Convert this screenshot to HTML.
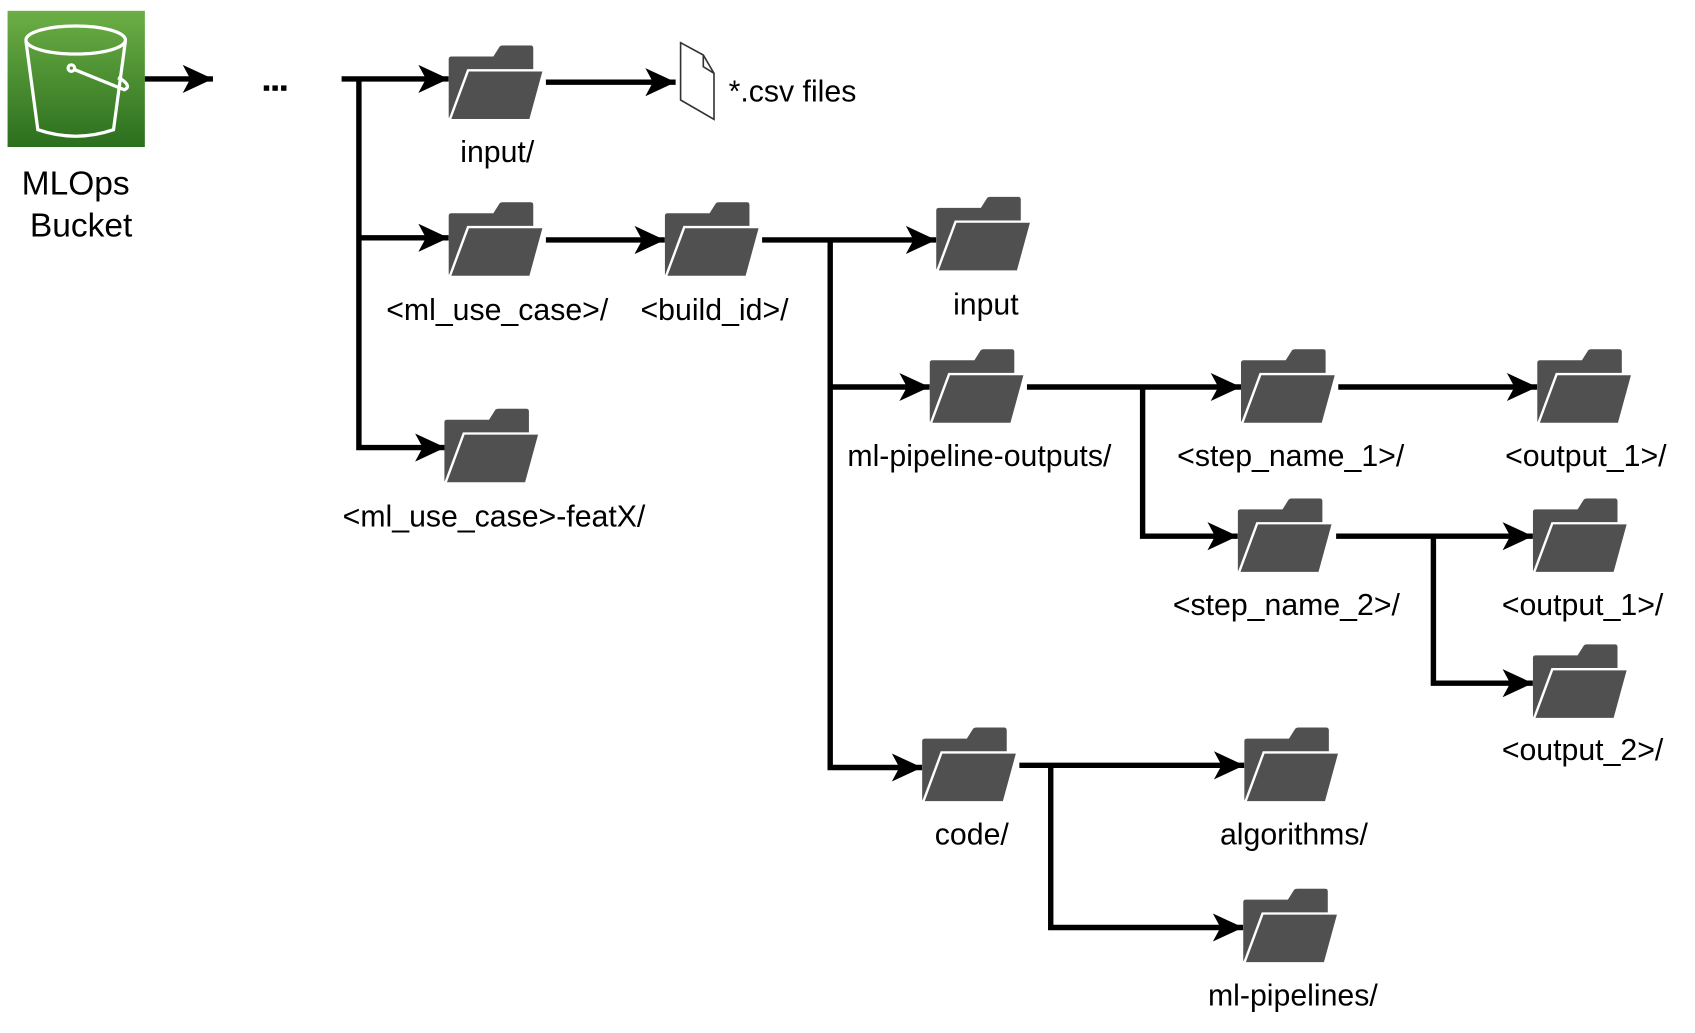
<!DOCTYPE html>
<html><head><meta charset="utf-8"><style>
html,body{margin:0;padding:0;background:#fff;}
svg{display:block;}
text{font-family:"Liberation Sans",Arial,sans-serif;fill:#000;}
</style></head><body>
<svg width="1695" height="1033" viewBox="0 0 1568 955.6" xmlns="http://www.w3.org/2000/svg">
<defs>
<linearGradient id="g" x1="0" y1="0" x2="0" y2="1"><stop offset="0" stop-color="#6cae45"/><stop offset="1" stop-color="#2b6f1e"/></linearGradient>
<marker id="a" markerUnits="userSpaceOnUse" markerWidth="40" markerHeight="40" refX="30" refY="15" orient="auto" viewBox="0 0 40 30">
<path d="M30,15 L2,2 L9,15 L2,28 Z" fill="#000"/></marker>
<symbol id="f" viewBox="0 0 100 82" preserveAspectRatio="none">
<path d="M3,12 L46,12 L52,2 Q53,0 56,0 L84,0 Q87,0 87,3 L87,30 L3,80 Q0,80 0,77 L0,15 Q0,12 3,12 Z" fill="#505050"/>
<path d="M20,27 L98,27 L84,81 L1,81 Z" fill="#505050" stroke="#fff" stroke-width="2.5"/>
</symbol>
</defs>
<rect x="7" y="10" width="127" height="126" fill="url(#g)"/>
<g fill="none" stroke="#fff" stroke-width="3">
<ellipse cx="70" cy="37" rx="46" ry="13"/>
<path d="M24,38 L35,120 Q70,132 105,120 L116,38"/>
<circle cx="66" cy="63" r="3"/>
<path d="M68,64 L115,83 Q122,80 112,73 L109,72"/>
</g>
<text x="70" y="180" font-size="31" text-anchor="middle">MLOps</text>
<text x="75" y="219" font-size="31" text-anchor="middle">Bucket</text>
<g stroke="#000" stroke-width="5" fill="none">
<path d="M134,73 L197,73" marker-end="url(#a)"/>
<path d="M316,73 L415,73" marker-end="url(#a)"/>
<path d="M332,71 L332,414 L412,414" marker-end="url(#a)"/>
<path d="M332,220 L415,220" marker-end="url(#a)"/>
<path d="M505,76 L625,76" marker-end="url(#a)"/>
<path d="M505,222 L615,222" marker-end="url(#a)"/>
<path d="M705,222 L866,222" marker-end="url(#a)"/>
<path d="M768,222 L768,710 L853,710" marker-end="url(#a)"/>
<path d="M768,358 L860,358" marker-end="url(#a)"/>
<path d="M950,358 L1148,358" marker-end="url(#a)"/>
<path d="M1057,358 L1057,496 L1145,496" marker-end="url(#a)"/>
<path d="M1238,358 L1422,358" marker-end="url(#a)"/>
<path d="M1236,496 L1418,496" marker-end="url(#a)"/>
<path d="M1326,496 L1326,632 L1418,632" marker-end="url(#a)"/>
<path d="M943,708 L1151,708" marker-end="url(#a)"/>
<path d="M972,708 L972,858 L1150,858" marker-end="url(#a)"/>
</g>
<g fill="#000"><rect x="244" y="79" width="5" height="5"/><rect x="252" y="79" width="5" height="5"/><rect x="260" y="79" width="5" height="5"/></g>
<polygon points="629.6,39.5 650.6,50.9 660.5,67.8 660.5,110.4 629.6,92.5" fill="#fff" stroke="#333" stroke-width="1.5"/>
<polyline points="650.6,50.9 650.6,61.7 660.5,67.8" fill="none" stroke="#333" stroke-width="1.5"/>
<text x="674" y="94" font-size="28">*.csv files</text>
<use href="#f" x="415" y="42" width="90" height="70"/>
<use href="#f" x="415" y="187" width="90" height="70"/>
<use href="#f" x="615" y="187" width="90" height="70"/>
<use href="#f" x="411" y="378" width="90" height="70"/>
<use href="#f" x="866" y="182" width="90" height="70"/>
<use href="#f" x="860" y="323" width="90" height="70"/>
<use href="#f" x="1148" y="323" width="90" height="70"/>
<use href="#f" x="1422" y="323" width="90" height="70"/>
<use href="#f" x="1145" y="461" width="90" height="70"/>
<use href="#f" x="1418" y="461" width="90" height="70"/>
<use href="#f" x="1418" y="596" width="90" height="70"/>
<use href="#f" x="853" y="673" width="90" height="70"/>
<use href="#f" x="1151" y="673" width="90" height="70"/>
<use href="#f" x="1150" y="822" width="90" height="70"/>
<g font-size="28" text-anchor="middle">
<text x="460" y="150">input/</text>
<text x="460" y="296">&lt;ml_use_case&gt;/</text>
<text x="661" y="296">&lt;build_id&gt;/</text>
<text x="457" y="487">&lt;ml_use_case&gt;-featX/</text>
<text x="912" y="291">input</text>
<text x="906" y="431">ml-pipeline-outputs/</text>
<text x="1194" y="431">&lt;step_name_1&gt;/</text>
<text x="1467" y="431">&lt;output_1&gt;/</text>
<text x="1190" y="569">&lt;step_name_2&gt;/</text>
<text x="1464" y="569">&lt;output_1&gt;/</text>
<text x="1464" y="703">&lt;output_2&gt;/</text>
<text x="899" y="781">code/</text>
<text x="1197" y="781">algorithms/</text>
<text x="1196" y="930">ml-pipelines/</text>
</g>
</svg>
</body></html>
